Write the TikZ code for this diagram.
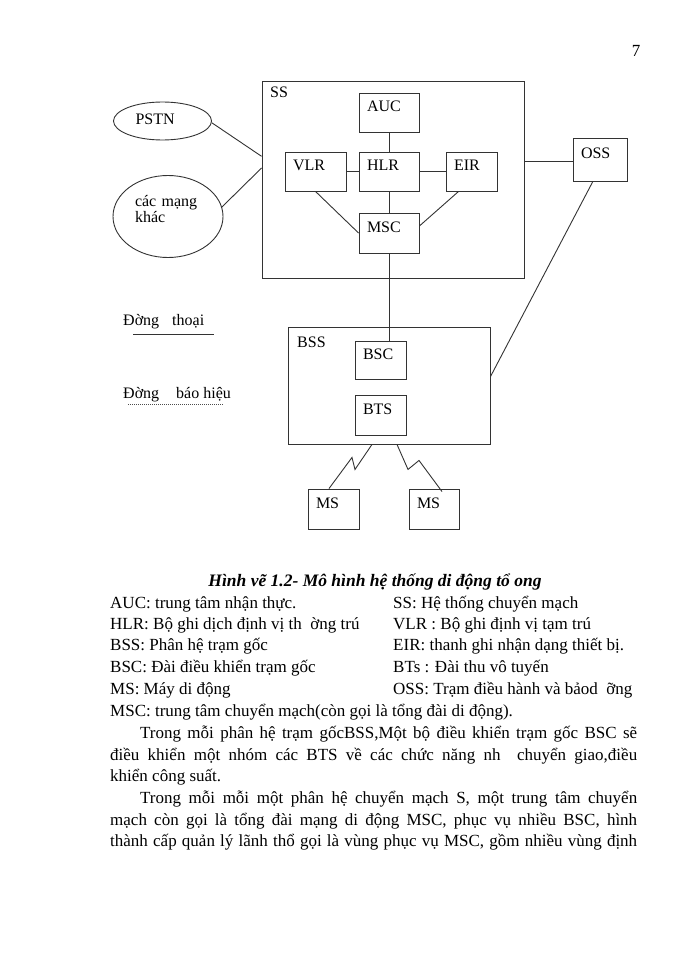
\documentclass[tikz,border=0pt]{standalone}
\usepackage{fontspec}
\setmainfont{Liberation Serif}
\usetikzlibrary{calc,shapes.geometric}
\newcommand\diagfont{\fontsize{16}{18}\selectfont}
\newcommand\bodyfont{\fontsize{17}{21}\selectfont}
\def\fline#1#2{\hbox to #1pt{#2}}
\tikzset{
	link/.style={line width=0.9pt, draw=black!80},
	frame/.style={link, rectangle, inner sep=0pt},
	blk/.style={link, rectangle, font=\diagfont, inner xsep=8pt, inner ysep=2pt, text width=#1, align=left, text height=10.5pt, text depth=12pt, minimum height=39pt},
	netw/.style={link, ellipse, font=\diagfont, inner sep=0pt, align=left},
	tag/.style={font=\diagfont, inner sep=0pt, anchor=base west},
	body/.style={font=\bodyfont, inner sep=0pt, anchor=base west},
	dotline/.style={line width=0.7pt, draw=black!70, dash pattern=on 1pt off 1pt}
}

\begin{document}
\begin{tikzpicture}[x=1pt, y=-1pt]
			%%%%% START %%%%%
			\useasboundingbox (0,0) rectangle (700,960);
			
			\node[body, anchor=base] (pageno) at (636,57) {7};
			
			\node[frame, minimum width=262pt, minimum height=197pt] (ss) at (393,179.5) {};
			\node[tag] (sstag) at (270,98) {SS};
			
			\node[blk=44pt] (auc) at (389,112.5) {AUC};
			\node[blk=45pt] (vlr) at (315.5,171.5) {VLR};
			\node[blk=44pt] (hlr) at (389,171.5) {HLR};
			\node[blk=35pt] (eir) at (471.5,171.5) {EIR};
			\node[blk=44pt, minimum height=40pt] (msc) at (389,233) {MSC};
			\node[blk=38pt, minimum height=43pt] (oss) at (600,159.5) {OSS};
			
			\node[netw, minimum width=98pt, minimum height=38pt, text width=54pt, text height=10pt, text depth=2pt] (pstn) at (162.5,121) {PSTN};
			\node[netw, font=\fontsize{16}{13.5}\selectfont, minimum width=110pt, minimum height=82pt, text width=66pt, text height=10pt, text depth=30pt] (other) at (168,216.5) {các mạng\\khác};
			
			\draw[link] (auc) -- (hlr);
			\draw[link] (vlr) -- (hlr);
			\draw[link] (hlr) -- (eir);
			\draw[link] (hlr) -- (msc);
			\draw[link] (vlr.south) -- (msc.west);
			\draw[link] (eir.237) -- (msc.13);
			\draw[link] (pstn.-2) -- (ss.170);
			\draw[link] (other.10) -- (ss.175);
			\draw[link] (oss.185 -| ss.east) -- (oss.185);
			
			\node[frame, minimum width=202pt, minimum height=117pt] (bss) at (389,385.5) {};
			\node[tag] (bsstag) at (297,347) {BSS};
			\node[blk=35pt, minimum height=38pt] (bsc) at (380.5,360) {BSC};
			\node[blk=35pt, minimum height=40pt] (bts) at (380.5,415) {BTS};
			\node[blk=35pt, minimum height=40pt] (ms1) at (333.5,509) {MS};
			\node[blk=34pt, minimum height=40pt] (ms2) at (434,509) {MS};
			
			\draw[link] (msc) -- (msc |- bsc.north);
			\draw[link] (oss.252) -- (bss.5);
			\draw[link] ([xshift=-17pt]bss.south) -- ++(-17,25) -- ++(-3,-12) -- ([xshift=-4.5pt]ms1.north);
			\draw[link] ([xshift=8pt]bss.south) -- ++(11,25) -- ++(11,-9) -- ([xshift=8pt,yshift=-3pt]ms2.north);
			
			\node[tag] (voice) at (123,325) {Đờng\hspace{13pt}thoại};
			\draw[link] ([xshift=10pt,yshift=-9pt]voice.base west) -- ([xshift=10pt,yshift=-9pt]voice.base east);
			\node[tag] (signal) at (123,398) {Đờng\hspace{17pt}báo hiệu};
			\draw[dotline] ([xshift=5pt,yshift=-6pt]signal.base west) -- ([xshift=-8pt,yshift=-6pt]signal.base east);
			
			\node[body, anchor=base, font=\fontsize{17.5}{21}\selectfont\bfseries\itshape] (caption) at (375,586) {Hình vẽ 1.2- Mô hình hệ thống di động tổ ong};
			
			\node[body] (auckey) at (110,608.3) {AUC: trung tâm nhận thực.};
			\node[body] (sskey) at (393,608.3) {SS: Hệ thống chuyển mạch};
			\node[body] (hlrkey) at (110,629) {HLR: Bộ ghi dịch định vị th\ \ ờng trú};
			\node[body] (vlrkey) at (393,629) {VLR : Bộ ghi định vị tạm trú};
			\node[body] (bsskey) at (110,650.7) {BSS: Phân hệ trạm gốc};
			\node[body] (eirkey) at (393,650.7) {EIR: thanh ghi nhận dạng thiết bị.};
			\node[body] (bsckey) at (110,672.7) {BSC: Đài điều khiển trạm gốc};
			\node[body] (btskey) at (393,672.7) {BTs : Đài thu vô tuyến};
			\node[body] (mskey) at (110,694.3) {MS: Máy di động};
			\node[body] (osskey) at (393,694.3) {OSS: Trạm điều hành và bảod\ \ ỡng};
			\node[body] (msckey) at (110,716.7) {MSC: trung tâm chuyển mạch(còn gọi là tổng đài di động).};
			
			\node[body] (para1a) at (140,738.3) {\fline{497}{Trong mỗi phân hệ trạm gốcBSS,Một bộ điều khiển trạm gốc BSC sẽ}};
			\node[body] (para1b) at (110,760) {\fline{527}{điều khiển một nhóm các BTS về các chức năng nh\ \ chuyển giao,điều}};
			\node[body] (para1c) at (110,781.7) {khiển công suất.};
			\node[body] (para2a) at (140,803.3) {\fline{497}{Trong mỗi mỗi một phân hệ chuyển mạch S, một trung tâm chuyển}};
			\node[body] (para2b) at (110,825.7) {\fline{527}{mạch còn gọi là tổng đài mạng di động MSC, phục vụ nhiều BSC, hình}};
			\node[body] (para2c) at (110,846.7) {\fline{527}{thành cấp quản lý lãnh thổ gọi là vùng phục vụ MSC, gồm nhiều vùng định}};
			
			%%%%% END %%%%%
\end{tikzpicture}
\end{document}
